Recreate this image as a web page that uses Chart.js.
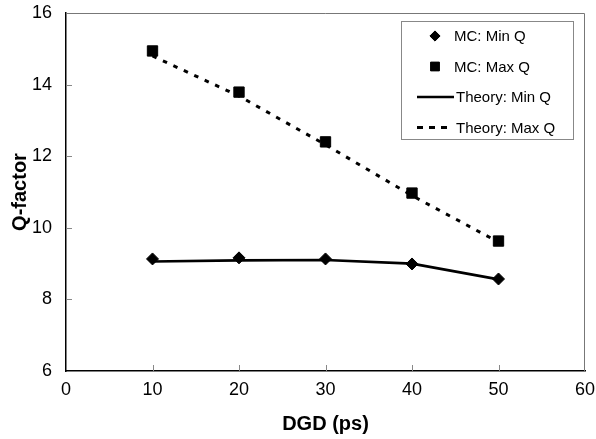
<!DOCTYPE html>
<html lang="en">
<head>
    <meta charset="UTF-8">
    <title>Q-factor vs DGD</title>
    <script src="https://cdn.jsdelivr.net/npm/chart.js"></script>
    <style>
        html, body { margin: 0; padding: 0; background: #fff; }
        #wrap { width: 596px; height: 439px; }
    </style>
</head>
<body>
    <div id="wrap"><canvas id="qChart" width="596" height="439"></canvas></div>

    <script>
        // Data
        var dgd = [10, 20, 30, 40, 50];
        var mcMinQ = [9.13, 9.16, 9.13, 8.99, 8.57];
        var mcMaxQ = [14.94, 13.79, 12.40, 10.97, 9.63];
        var theoryMinQ = [9.06, 9.09, 9.1, 9.0, 8.56];
        var theoryMaxQ = [14.8, 13.68, 12.32, 10.9, 9.6];
        var legendLabels = ['MC: Min Q', 'MC: Max Q', 'Theory: Min Q', 'Theory: Max Q'];

        function toPoints(xs, ys) {
            return xs.map(function (x, i) { return { x: x, y: ys[i] }; });
        }

        var FONT = '"Liberation Sans", Arial, sans-serif';

        // frame, inward ticks and the boxed legend
        var decorPlugin = {
            id: 'decor',
            afterDatasetsDraw: function (chart) {
                var ctx = chart.ctx;
                var a = chart.chartArea;
                var xs = chart.scales.x, ys = chart.scales.y;
                ctx.save();
                // top and right frame
                ctx.strokeStyle = '#777';
                ctx.lineWidth = 1;
                ctx.beginPath();
                ctx.moveTo(a.left, a.top + 0.5);
                ctx.lineTo(a.right - 0.5, a.top + 0.5);
                ctx.lineTo(a.right - 0.5, a.bottom);
                ctx.stroke();
                // inward ticks
                ctx.strokeStyle = '#888';
                ctx.beginPath();
                xs.ticks.forEach(function (t) {
                    if (t.value <= xs.min || t.value >= xs.max) return;
                    var px = Math.round(xs.getPixelForValue(t.value)) + 0.5;
                    ctx.moveTo(px, a.bottom);
                    ctx.lineTo(px, a.bottom - 6);
                });
                ys.ticks.forEach(function (t) {
                    if (t.value <= ys.min || t.value >= ys.max) return;
                    var py = Math.round(ys.getPixelForValue(t.value)) + 0.5;
                    ctx.moveTo(a.left, py);
                    ctx.lineTo(a.left + 6, py);
                });
                ctx.stroke();

                // legend box
                var bx = 401, by = 21, bw = 172, bh = 118;
                ctx.fillStyle = '#fff';
                ctx.fillRect(bx, by, bw, bh);
                ctx.strokeStyle = '#888';
                ctx.strokeRect(bx + 0.5, by + 0.5, bw, bh);
                ctx.font = '15px ' + FONT;
                ctx.textBaseline = 'middle';
                ctx.textAlign = 'left';
                chart.data.datasets.forEach(function (ds, i) {
                    var cy = by + 15 + i * 30.5;
                    ctx.fillStyle = '#000';
                    ctx.strokeStyle = '#000';
                    if (ds.showLine === false) {
                        var r = ds.pointRadius * 0.85;
                        Chart.helpers.drawPoint(ctx, { pointStyle: ds.pointStyle, radius: r, borderWidth: 1, rotation: 0 }, 435, cy);
                        ctx.fill();
                        ctx.fillText(legendLabels[i], 454, cy + 1);
                    } else {
                        ctx.lineWidth = ds.borderWidth;
                        ctx.setLineDash(ds.borderDash ? [6, 6] : []);
                        ctx.beginPath();
                        ctx.moveTo(417, cy);
                        ctx.lineTo(ds.borderDash ? 447 : 454, cy);
                        ctx.stroke();
                        ctx.setLineDash([]);
                        ctx.fillText(legendLabels[i], 456, cy + 1);
                    }
                });
                ctx.restore();
            }
        };

        var ctx = document.getElementById('qChart').getContext('2d');
        var myChart = new Chart(ctx, {
            type: 'line',
            data: {
                datasets: [{
                    label: legendLabels[0],
                    data: toPoints(dgd, mcMinQ),
                    showLine: false,
                    pointStyle: 'rectRot',
                    pointRadius: 6,
                    backgroundColor: '#000',
                    borderColor: '#000',
                    order: 0
                }, {
                    label: legendLabels[1],
                    data: toPoints(dgd, mcMaxQ),
                    showLine: false,
                    pointStyle: 'rect',
                    pointRadius: 7.3,
                    backgroundColor: '#000',
                    borderColor: '#000',
                    order: 0
                }, {
                    label: legendLabels[2],
                    data: toPoints(dgd, theoryMinQ),
                    borderColor: '#000',
                    borderWidth: 2.6,
                    pointRadius: 0,
                    tension: 0,
                    order: 1
                }, {
                    label: legendLabels[3],
                    data: toPoints(dgd, theoryMaxQ),
                    borderColor: '#000',
                    borderWidth: 3,
                    borderDash: [4.5, 7],
                    pointRadius: 0,
                    tension: 0,
                    order: 1
                }]
            },
            options: {
                responsive: false,
                animation: false,
                layout: { padding: { top: 13, right: 11, left: 0, bottom: 0 } },
                plugins: {
                    legend: { display: false },
                    tooltip: { enabled: false }
                },
                scales: {
                    x: {
                        type: 'linear',
                        min: 0,
                        max: 60,
                        afterFit: function (s) { s.height = 68; s.paddingLeft = 0; s.paddingRight = 0; },
                        ticks: { stepSize: 10, color: '#000', padding: 8, font: { family: FONT, size: 18 } },
                        grid: { display: true, drawOnChartArea: false, drawTicks: false },
                        border: { color: '#000', width: 1.5 },
                        title: {
                            display: true,
                            text: 'DGD (ps)',
                            color: '#000',
                            font: { family: FONT, size: 20, weight: 'bold' },
                            padding: { top: 0, bottom: 3 }
                        }
                    },
                    y: {
                        min: 6,
                        max: 16,
                        afterFit: function (s) { s.width = 66; s.paddingTop = 0; s.paddingBottom = 0; },
                        ticks: { stepSize: 2, color: '#000', padding: 14, font: { family: FONT, size: 18 } },
                        grid: { display: true, drawOnChartArea: false, drawTicks: false },
                        border: { color: '#000', width: 1.5 },
                        title: {
                            display: true,
                            text: 'Q-factor',
                            color: '#000',
                            font: { family: FONT, size: 20, weight: 'bold' },
                            padding: { top: 8, bottom: 0 }
                        }
                    }
                }
            },
            plugins: [decorPlugin]
        });
    </script>
</body>
</html>
